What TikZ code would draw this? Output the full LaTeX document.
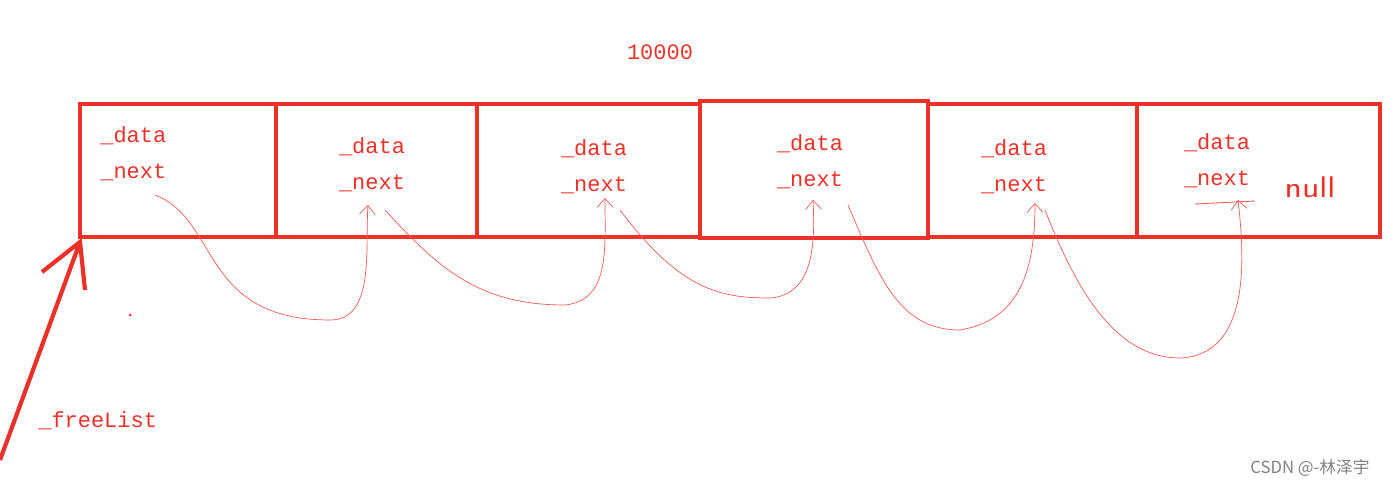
\documentclass[tikz,border=0pt]{standalone}
\usepackage{fontspec}
\setmonofont{Liberation Mono}
\newfontfamily\cjk{Noto Sans CJK SC}
\usetikzlibrary{arrows.meta}
\definecolor{rd}{RGB}{235,50,40}
\tikzset{cell/.style={draw=rd,line width=2.4pt},
 lbl/.style={text=rd,font=\ttfamily\fontsize{12.5}{14}\selectfont,inner sep=0pt},
 link/.style={draw=rd!80,line width=0.4pt,-{Straight Barb[length=5pt,width=9pt]}}}
\begin{document}
\begin{tikzpicture}[x=0.02cm,y=-0.02cm]
\useasboundingbox (0,0) rectangle (1396,489);
\draw[cell] (80,104) rectangle (276,237);
\draw[cell] (276,104) rectangle (477,237);
\draw[cell] (477,104) rectangle (700,237);
\draw[cell] (700,101) rectangle (928,238);
\draw[cell] (928,104) rectangle (1137,237);
\draw[cell] (1137,104) rectangle (1380,237);
\node[lbl] (t) at (660,52) {10000};
\node[lbl,anchor=west] (d1) at (100,136) {\_data};
\node[lbl,anchor=west] (n1) at (100,172) {\_next};
\node[lbl] (d2) at (372,147) {\_data};
\node[lbl] (n2) at (372,183) {\_next};
\node[lbl] (d3) at (594,149) {\_data};
\node[lbl] (n3) at (594,185) {\_next};
\node[lbl] (d4) at (810,144) {\_data};
\node[lbl] (n4) at (810,180) {\_next};
\node[lbl] (d5) at (1014,149) {\_data};
\node[lbl] (n5) at (1014,185) {\_next};
\node[lbl] (d6) at (1217,143) {\_data};
\node[lbl] (n6) at (1217,179) {\_next};
\node[text=rd,font=\sffamily\fontsize{17}{18}\selectfont,inner sep=0pt,xscale=1.2] (nl) at (1310,187) {null};
\draw[rd!80,line width=0.5pt] (1195,204) -- (1255,201);
\coordinate (a1) at (368,205);
\draw[link] (155,195) .. controls (220,220) and (200,320) .. (330,320) .. controls (375,320) and (365,250) .. (a1);
\coordinate (a2) at (605,198);
\draw[link] (385,210) .. controls (440,270) and (480,305) .. (565,305) .. controls (610,300) and (605,250) .. (a2);
\coordinate (a3) at (813,200);
\draw[link] (620,210) .. controls (680,290) and (720,298) .. (770,298) .. controls (815,295) and (815,240) .. (a3);
\coordinate (a4) at (1035,203);
\draw[link] (848,205) .. controls (880,280) and (900,330) .. (960,330) .. controls (1020,320) and (1035,270) .. (a4);
\coordinate (a5) at (1238,200);
\draw[link] (1045,210) .. controls (1080,300) and (1120,358) .. (1180,358) .. controls (1250,355) and (1245,260) .. (a5);
\coordinate (fs) at (0,460);
\coordinate (fe) at (80,242);
\draw[rd,line width=2.4pt] (fs) -- (fe) (42,272) -- (fe) -- (85,290);
\node[lbl,anchor=west] (fl) at (38,421) {\_freeList};
\fill[rd] (130,315) circle (1.5);
\node[text=gray,font=\cjk\fontsize{9.5}{11}\selectfont,inner sep=0pt] (wm) at (1310,468) {CSDN @-林泽宇};
\end{tikzpicture}
\end{document}
